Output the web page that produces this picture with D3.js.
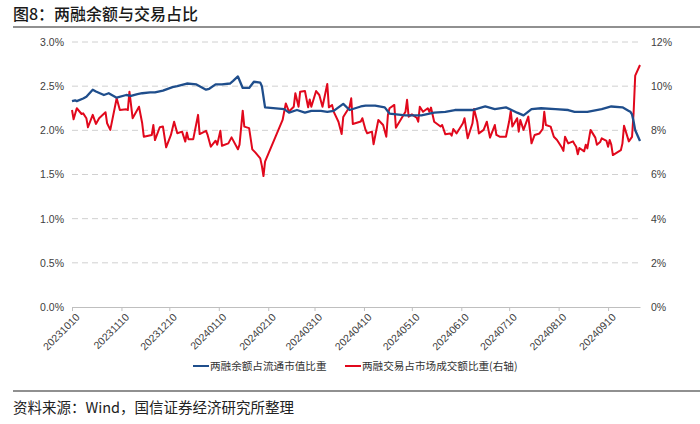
<!DOCTYPE html>
<html>
<head>
<meta charset="utf-8">
<script src="https://cdn.jsdelivr.net/npm/d3@7"></script>
<style>
  body { margin: 0; background: #fff; }
  svg { display: block; }
</style>
</head>
<body>
<div id="chart"></div>
<script>
// 两融余额占流通市值比重 (左轴, %)
var marginDates = ["2023-10-10","2023-10-12","2023-10-13","2023-10-17","2023-10-19","2023-10-23","2023-10-25","2023-10-30",
  "2023-11-02","2023-11-07","2023-11-13","2023-11-16","2023-11-20","2023-11-23","2023-11-28","2023-12-01","2023-12-06",
  "2023-12-12","2023-12-15","2023-12-21","2023-12-27","2024-01-02","2024-01-04","2024-01-08","2024-01-12","2024-01-17",
  "2024-01-19","2024-01-22","2024-01-25","2024-01-29","2024-02-01","2024-02-05","2024-02-06","2024-02-08","2024-02-20",
  "2024-02-23","2024-02-28","2024-03-04","2024-03-08","2024-03-14","2024-03-18","2024-03-22","2024-03-28","2024-04-01",
  "2024-04-08","2024-04-11","2024-04-17","2024-04-23","2024-04-26","2024-05-06","2024-05-16","2024-05-24","2024-05-31",
  "2024-06-06","2024-06-17","2024-06-25","2024-07-01","2024-07-08","2024-07-15","2024-07-19","2024-07-24","2024-07-30",
  "2024-08-08","2024-08-16","2024-08-20","2024-08-28","2024-09-06","2024-09-12","2024-09-19","2024-09-23","2024-09-24",
  "2024-09-25","2024-09-26","2024-09-27","2024-09-30"];
var marginShare = [2.33,2.34,2.33,2.36,2.38,2.46,2.44,2.40,
  2.42,2.37,2.40,2.39,2.41,2.42,2.43,2.43,2.45,
  2.49,2.50,2.53,2.52,2.46,2.47,2.52,2.52,2.53,
  2.56,2.61,2.48,2.48,2.55,2.54,2.50,2.26,2.24,
  2.20,2.23,2.20,2.22,2.22,2.21,2.22,2.30,2.23,
  2.27,2.28,2.28,2.26,2.19,2.17,2.17,2.20,2.21,
  2.23,2.23,2.27,2.24,2.26,2.20,2.17,2.24,2.25,
  2.24,2.23,2.21,2.21,2.24,2.27,2.26,2.22,2.21,
  2.18,2.10,2.00,1.88];

// 两融交易占市场成交额比重 (右轴, %)
var tradeDates = ["2023-10-10","2023-10-11","2023-10-13","2023-10-16","2023-10-17","2023-10-19","2023-10-20","2023-10-23",
  "2023-10-25","2023-10-27","2023-10-31","2023-11-01","2023-11-03","2023-11-07","2023-11-09","2023-11-13","2023-11-14",
  "2023-11-15","2023-11-17","2023-11-21","2023-11-23","2023-11-24","2023-11-29","2023-11-30","2023-12-01","2023-12-04",
  "2023-12-06","2023-12-08","2023-12-11","2023-12-13","2023-12-15","2023-12-18","2023-12-20","2023-12-21","2023-12-22",
  "2023-12-25","2023-12-28","2023-12-29","2024-01-02","2024-01-03","2024-01-05","2024-01-08","2024-01-09","2024-01-11",
  "2024-01-12","2024-01-16","2024-01-18","2024-01-22","2024-01-23","2024-01-25","2024-01-26","2024-01-29","2024-01-31",
  "2024-02-02","2024-02-05","2024-02-06","2024-02-07","2024-02-08","2024-02-19","2024-02-21","2024-02-23","2024-02-26",
  "2024-02-27","2024-02-29","2024-03-01","2024-03-04","2024-03-06","2024-03-07","2024-03-08","2024-03-11","2024-03-13",
  "2024-03-15","2024-03-18","2024-03-19","2024-03-21","2024-03-22","2024-03-25","2024-03-27","2024-03-28","2024-04-01",
  "2024-04-02","2024-04-03","2024-04-08","2024-04-09","2024-04-11","2024-04-12","2024-04-15","2024-04-16","2024-04-19",
  "2024-04-22","2024-04-24","2024-04-25","2024-04-26","2024-04-29","2024-04-30","2024-05-06","2024-05-07","2024-05-08",
  "2024-05-10","2024-05-13","2024-05-14","2024-05-15","2024-05-17","2024-05-20","2024-05-21","2024-05-22","2024-05-24",
  "2024-05-28","2024-05-29","2024-05-31","2024-06-03","2024-06-04","2024-06-05","2024-06-07","2024-06-11","2024-06-12",
  "2024-06-13","2024-06-14","2024-06-17","2024-06-18","2024-06-20","2024-06-21","2024-06-24","2024-06-26","2024-06-28",
  "2024-07-01","2024-07-02","2024-07-04","2024-07-08","2024-07-10","2024-07-11","2024-07-12","2024-07-15","2024-07-16",
  "2024-07-17","2024-07-19","2024-07-22","2024-07-24","2024-07-26","2024-07-29","2024-07-31","2024-08-01","2024-08-02",
  "2024-08-05","2024-08-07","2024-08-09","2024-08-12","2024-08-13","2024-08-14","2024-08-16","2024-08-19","2024-08-20",
  "2024-08-21","2024-08-22","2024-08-23","2024-08-26","2024-08-27","2024-08-28","2024-08-30","2024-09-02","2024-09-03",
  "2024-09-05","2024-09-06","2024-09-09","2024-09-10","2024-09-11","2024-09-12","2024-09-13","2024-09-18","2024-09-19",
  "2024-09-20","2024-09-23","2024-09-24","2024-09-25","2024-09-26","2024-09-27","2024-09-30"];
var tradeShare = [8.92,8.50,9.00,8.74,8.77,8.55,8.14,8.70,
  8.29,8.55,8.82,8.32,8.02,9.45,8.92,8.95,8.92,
  9.75,8.55,9.07,8.32,7.71,7.79,8.24,7.56,8.14,
  8.17,7.23,7.79,8.39,7.87,7.94,7.49,7.90,7.60,
  7.60,8.70,7.83,7.98,7.79,7.26,7.53,7.35,7.98,
  7.30,7.41,7.68,7.14,7.35,8.89,8.17,8.10,7.14,
  6.99,6.73,6.39,5.93,6.58,8.47,9.22,8.85,9.07,
  9.68,9.07,9.75,9.78,9.04,9.40,9.07,9.78,9.60,
  9.07,10.10,9.04,9.15,8.85,8.39,7.83,8.60,9.07,
  9.45,8.29,8.40,8.55,8.02,7.87,7.94,7.37,8.47,
  8.24,7.71,8.70,9.00,9.15,8.12,8.84,9.38,8.62,
  8.72,8.57,8.39,9.07,8.84,9.00,8.84,9.03,8.39,
  8.17,8.24,7.82,7.86,7.76,8.06,7.86,8.32,8.55,
  8.09,7.64,8.32,8.97,8.39,7.86,8.02,8.39,7.67,
  8.24,7.79,7.71,7.71,8.41,8.88,8.17,8.55,7.94,
  8.47,8.02,8.62,7.41,7.79,7.86,8.06,8.84,8.24,
  8.17,7.71,7.56,7.22,7.07,7.71,7.41,7.50,7.37,
  7.26,6.92,7.20,7.05,7.35,7.18,8.02,7.67,7.35,
  7.47,7.64,7.52,7.26,7.56,7.35,6.88,7.10,7.41,
  8.21,7.50,7.60,7.70,8.80,10.48,10.96];

var tickLabels = ["20231010","20231110","20231210","20240110","20240210","20240310",
  "20240410","20240510","20240610","20240710","20240810","20240910"];
var leftTicks = [0, 0.5, 1.0, 1.5, 2.0, 2.5, 3.0];
var rightTicks = [0, 2, 4, 6, 8, 10, 12];
var seriesNames = ["两融余额占流通市值比重", "两融交易占市场成交额比重(右轴)"];

(function() {
var width = 700, height = 424;
var plotLeft = 72, plotRight = 640, plotTop = 42, plotBottom = 307;
var blue = "#1f4e8c", red = "#e1081c";
var font = "'Liberation Sans', Arial, sans-serif";
var cjk = "'Noto Sans CJK SC', sans-serif";

var parse = d3.timeParse("%Y-%m-%d");
var parseTick = d3.timeParse("%Y%m%d");

var blueData = marginDates.map(function(d, i) { return {date: parse(d), v: marginShare[i]}; });
var redData = tradeDates.map(function(d, i) { return {date: parse(d), v: tradeShare[i]}; });

var x = d3.scaleTime()
  .domain([parse("2023-10-10"), parse("2024-09-30")])
  .range([plotLeft, plotRight]);
var yL = d3.scaleLinear().domain([0, 3]).range([plotBottom, plotTop]);
var yR = d3.scaleLinear().domain([0, 12]).range([plotBottom, plotTop]);

var svg = d3.select("#chart").append("svg")
  .attr("width", width)
  .attr("height", height);

// 标题
svg.append("text")
  .attr("x", 13).attr("y", 20)
  .style("font-family", cjk).style("font-size", "16px").style("font-weight", 500).style("fill", "#1a1a1a")
  .text("图8：两融余额与交易占比");
svg.append("line")
  .attr("x1", 13).attr("x2", 700).attr("y1", 27).attr("y2", 27)
  .style("stroke", "#6b6b6b").style("stroke-width", 1.5);

// 网格线
svg.append("g").selectAll("line")
  .data(leftTicks.slice(1))
  .enter().append("line")
  .attr("x1", plotLeft).attr("x2", plotRight)
  .attr("y1", function(d) { return yL(d); })
  .attr("y2", function(d) { return yL(d); })
  .style("stroke", "#d0d0d0").style("stroke-dasharray", "6,4").style("stroke-width", 1);

// 左轴
var gL = svg.append("g")
  .attr("transform", "translate(" + (plotLeft - 4) + ",0)")
  .call(d3.axisLeft(yL).tickValues(leftTicks).tickSize(0).tickPadding(4)
    .tickFormat(function(d) { return d3.format(".1f")(d) + "%"; }));
gL.select(".domain").remove();

// 右轴
var gR = svg.append("g")
  .attr("transform", "translate(" + (plotRight + 8) + ",0)")
  .call(d3.axisRight(yR).tickValues(rightTicks).tickSize(0).tickPadding(3)
    .tickFormat(function(d) { return d + "%"; }));
gR.select(".domain").remove();

svg.selectAll(".tick text")
  .style("font-family", font).style("font-size", "10.5px").style("fill", "#404040");

// 横轴
var gX = svg.append("g")
  .attr("transform", "translate(0," + plotBottom + ")")
  .call(d3.axisBottom(x).tickValues(tickLabels.map(parseTick)).tickSize(4).tickSizeOuter(0)
    .tickFormat(d3.timeFormat("%Y%m%d")));
gX.select(".domain").style("stroke", "#bfbfbf");
gX.selectAll(".tick line").style("stroke", "#bfbfbf");
gX.selectAll(".tick text")
  .style("font-family", font).style("font-size", "10.5px").style("fill", "#404040")
  .style("text-anchor", "end")
  .attr("dx", "-0.2em").attr("dy", "0.6em")
  .attr("transform", "rotate(-45)");

// 折线
var lineL = d3.line()
  .x(function(d) { return x(d.date); })
  .y(function(d) { return yL(d.v); });
var lineR = d3.line()
  .x(function(d) { return x(d.date); })
  .y(function(d) { return yR(d.v); });

svg.append("path")
  .datum(redData)
  .attr("d", lineR)
  .style("fill", "none").style("stroke", red).style("stroke-width", 2).style("stroke-linejoin", "round");

svg.append("path")
  .datum(blueData)
  .attr("d", lineL)
  .style("fill", "none").style("stroke", blue).style("stroke-width", 2.3).style("stroke-linejoin", "round");

// 图例
var legend = svg.append("g").attr("transform", "translate(0,366)");
var lx = [193, 345];
[blue, red].forEach(function(c, i) {
  legend.append("line")
    .attr("x1", lx[i]).attr("x2", lx[i] + 16).attr("y1", 0).attr("y2", 0)
    .style("stroke", c).style("stroke-width", 2);
  legend.append("text")
    .attr("x", lx[i] + 17).attr("y", 4)
    .style("font-family", cjk).style("font-size", "10.6px").style("fill", "#333")
    .text(seriesNames[i]);
});

// 资料来源
svg.append("line")
  .attr("x1", 13).attr("x2", 700).attr("y1", 391).attr("y2", 391)
  .style("stroke", "#6b6b6b").style("stroke-width", 1.5);
svg.append("text")
  .attr("x", 13).attr("y", 413)
  .style("font-family", cjk).style("font-size", "14.5px").style("fill", "#222")
  .text("资料来源：Wind，国信证券经济研究所整理");
})();
</script>
</body>
</html>
